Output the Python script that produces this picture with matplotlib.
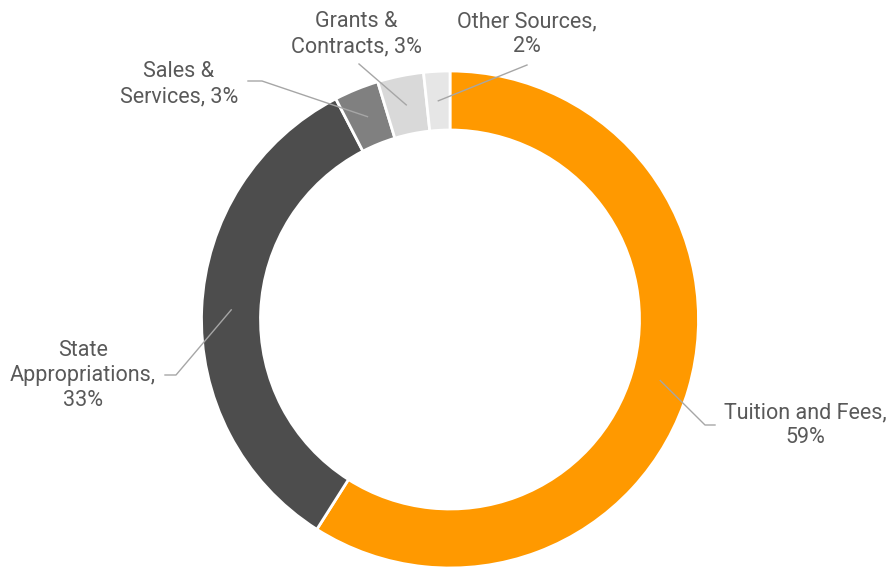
import numpy as np
import matplotlib
matplotlib.use("Agg")
import matplotlib.pyplot as plt

# revenue sources, share of total (%)
labels = ["Tuition and Fees,\n", "State\nAppropriations,\n", "Sales &\nServices, ",
          "Grants &\nContracts, ", "Other Sources,\n"]
shares = [59.0, 33.4, 2.9, 3.0, 1.7]
colors = ["#FF9900", "#4D4D4D", "#808080", "#D9D9D9", "#E6E6E6"]

plt.rcParams["font.family"] = ["Roboto", "DejaVu Sans"]

fig = plt.figure(figsize=(8.92, 5.68), dpi=100)
ax = fig.add_axes([0, 0, 1, 1])

cx, cy, R, ring = 450, 319.5, 248.5, 59
# y axis is inverted below, so start at -90 and go counterclockwise in data
# coordinates to get a clockwise ring starting at the top on screen
wedges, _ = ax.pie(shares, colors=colors, startangle=-90, counterclock=True,
                   center=(cx, cy), radius=R, frame=True,
                   wedgeprops=dict(width=ring, edgecolor="white", linewidth=2))
ax.set_xlim(0, 892)
ax.set_ylim(568, 0)
ax.set_aspect("equal")
ax.axis("off")

# label text position and elbow point of the leader line (pixel layout)
label_pos = [(805, 425), (83, 375), (179, 84), (356, 34), (527, 34)]
elbows = [[(715, 425), (705, 425)],
          [(165, 375), (176, 375)],
          [(248, 81), (262, 81)],
          [(359, 64)],
          [(527, 65)]]

for w, lab, val, pos, elb in zip(wedges, labels, shares, label_pos, elbows):
    mid = np.deg2rad((w.theta1 + w.theta2) / 2)
    rm = R - ring / 2
    anchor = (w.center[0] + rm * np.cos(mid), w.center[1] + rm * np.sin(mid))
    pts = elb + [anchor]
    ax.plot([p[0] for p in pts], [p[1] for p in pts], color="#A6A6A6", lw=1)
    ax.text(pos[0], pos[1], f"{lab}{val:.0f}%", ha="center", va="center",
            fontsize=15.5, color="#595959", linespacing=1.25)

fig.savefig("out.png", dpi=100, facecolor="white")
